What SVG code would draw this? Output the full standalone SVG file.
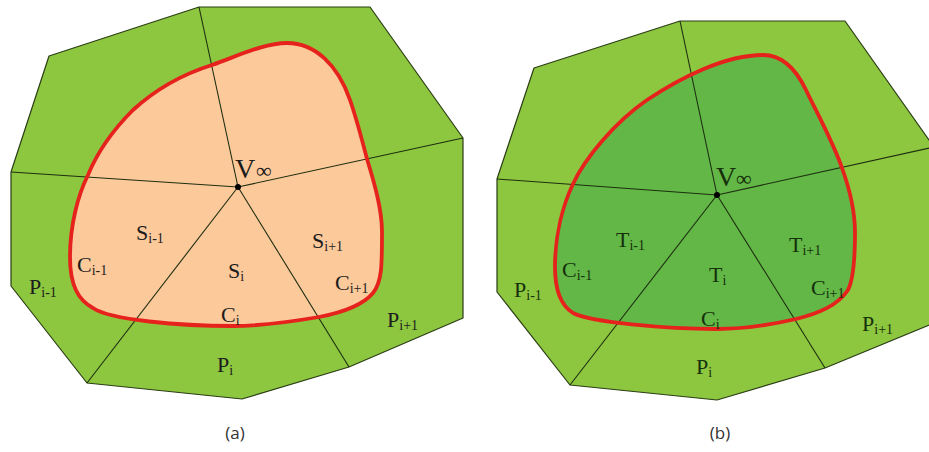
<svg xmlns="http://www.w3.org/2000/svg" width="929" height="452" viewBox="0 0 929 452">
<style>
.outer{fill:#8dc63f;stroke:#2a3d14;stroke-width:1.2;stroke-linejoin:round}
.innerA{fill:#fcc99b;stroke:none}
.innerB{fill:#62b746;stroke:none}
.red{fill:none;stroke:#e5221c;stroke-width:3.8}
.spoke{stroke:#1e2e10;stroke-width:1.1;fill:none}
.lbl{font-family:"Liberation Serif","Times New Roman",serif;font-size:22px}
.la{fill:#1c1c1c}
.lb{fill:#16300c}
.sub{font-size:14px}
.cap{font-family:"Open Sans","Liberation Sans",sans-serif;font-size:17px;fill:#333;text-anchor:middle}
</style>
<g id="panel-a">
  <g id="a-region">
    <polygon class="outer" points="49,56 199,7 370,7 463,138 463,318 349,367 242,399 87,383 11,286 11,172"/>
    <path id="a-inner" class="innerA" d="M233,326 C180,326 110,320 93,308 C78,300 70,285 70,257 C70,225 78,195 88,175 C97,153 113,130 133,110 C155,90 180,75 212,65 C240,55 265,43 287,43 C315,43 338,65 350,100 C357,120 362,140 367,159 C375,185 382,210 382,232 C382,265 382,282 373,293 C363,305 345,312 319,317 C290,322 260,326 233,326 Z"/>
  </g>
  <g id="a-connectors">
    <line class="spoke" x1="238" y1="187" x2="199" y2="7"/>
    <line class="spoke" x1="238" y1="187" x2="11" y2="172"/>
    <line class="spoke" x1="238" y1="187" x2="463" y2="138"/>
    <line class="spoke" x1="238" y1="187" x2="87" y2="383"/>
    <line class="spoke" x1="238" y1="187" x2="349" y2="367"/>
  </g>
  <g id="a-curve">
    <path class="red" d="M233,326 C180,326 110,320 93,308 C78,300 70,285 70,257 C70,225 78,195 88,175 C97,153 113,130 133,110 C155,90 180,75 212,65 C240,55 265,43 287,43 C315,43 338,65 350,100 C357,120 362,140 367,159 C375,185 382,210 382,232 C382,265 382,282 373,293 C363,305 345,312 319,317 C290,322 260,326 233,326 Z"/>
  </g>
  <g id="a-vertex">
    <circle cx="238" cy="187" r="3" fill="#000"/>
    <text class="lbl la" x="235" y="178" style="font-size:28px">V</text>
    <text class="lbl la" x="256" y="178" style="font-size:22px">∞</text>
  </g>
  <g id="a-S-im1"><text class="lbl la" x="136" y="240">S<tspan class="sub" dy="3">i-1</tspan></text></g>
  <g id="a-S-i"><text class="lbl la" x="228" y="278">S<tspan class="sub" dy="3">i</tspan></text></g>
  <g id="a-S-ip1"><text class="lbl la" x="312" y="248">S<tspan class="sub" dy="3">i+1</tspan></text></g>
  <g id="a-C-im1"><text class="lbl la" x="77" y="272">C<tspan class="sub" dy="3">i-1</tspan></text></g>
  <g id="a-C-i"><text class="lbl la" x="221" y="322">C<tspan class="sub" dy="3">i</tspan></text></g>
  <g id="a-C-ip1"><text class="lbl la" x="335" y="290">C<tspan class="sub" dy="3">i+1</tspan></text></g>
  <g id="a-P-im1"><text class="lbl la" x="29" y="294">P<tspan class="sub" dy="3">i-1</tspan></text></g>
  <g id="a-P-i"><text class="lbl la" x="217" y="372">P<tspan class="sub" dy="3">i</tspan></text></g>
  <g id="a-P-ip1"><text class="lbl la" x="387" y="327">P<tspan class="sub" dy="3">i+1</tspan></text></g>
  <g id="a-caption"><text class="cap" x="235" y="439">(a)</text></g>
</g>
<g id="panel-b">
  <g id="b-region">
    <polygon class="outer" points="534,68 680,21 845,21 934,147 934,323 825,368 717,400 570,385 497,292 497,179"/>
    <path id="b-inner" class="innerB" d="M717,329 C665,329 590,322 573,313 C560,305 555,290 555,267 C555,235 563,205 573,184 C585,158 615,122 647,100 C680,78 725,55 763,55 C780,55 795,67 806,90 C817,113 833,142 842,168 C850,190 855,210 855,233 C855,262 853,280 848,290 C838,305 820,313 796,319 C770,325 745,329 717,329 Z"/>
  </g>
  <g id="b-connectors">
    <line class="spoke" x1="717" y1="195" x2="680" y2="21"/>
    <line class="spoke" x1="717" y1="195" x2="497" y2="179"/>
    <line class="spoke" x1="717" y1="195" x2="934" y2="147"/>
    <line class="spoke" x1="717" y1="195" x2="570" y2="385"/>
    <line class="spoke" x1="717" y1="195" x2="825" y2="368"/>
  </g>
  <g id="b-curve">
    <path class="red" d="M717,329 C665,329 590,322 573,313 C560,305 555,290 555,267 C555,235 563,205 573,184 C585,158 615,122 647,100 C680,78 725,55 763,55 C780,55 795,67 806,90 C817,113 833,142 842,168 C850,190 855,210 855,233 C855,262 853,280 848,290 C838,305 820,313 796,319 C770,325 745,329 717,329 Z"/>
  </g>
  <g id="b-vertex">
    <circle cx="717" cy="195" r="3" fill="#000"/>
    <text class="lbl lb" x="716" y="186" style="font-size:28px">V</text>
    <text class="lbl lb" x="736" y="186" style="font-size:22px">∞</text>
  </g>
  <g id="b-T-im1"><text class="lbl lb" x="616" y="247">T<tspan class="sub" dy="3">i-1</tspan></text></g>
  <g id="b-T-i"><text class="lbl lb" x="709" y="282">T<tspan class="sub" dy="3">i</tspan></text></g>
  <g id="b-T-ip1"><text class="lbl lb" x="789" y="252">T<tspan class="sub" dy="3">i+1</tspan></text></g>
  <g id="b-C-im1"><text class="lbl lb" x="562" y="277">C<tspan class="sub" dy="3">i-1</tspan></text></g>
  <g id="b-C-i"><text class="lbl lb" x="701" y="326">C<tspan class="sub" dy="3">i</tspan></text></g>
  <g id="b-C-ip1"><text class="lbl lb" x="811" y="295">C<tspan class="sub" dy="3">i+1</tspan></text></g>
  <g id="b-P-im1"><text class="lbl lb" x="514" y="297">P<tspan class="sub" dy="3">i-1</tspan></text></g>
  <g id="b-P-i"><text class="lbl lb" x="696" y="374">P<tspan class="sub" dy="3">i</tspan></text></g>
  <g id="b-P-ip1"><text class="lbl lb" x="862" y="331">P<tspan class="sub" dy="3">i+1</tspan></text></g>
  <g id="b-caption"><text class="cap" x="720" y="439">(b)</text></g>
</g>
</svg>
